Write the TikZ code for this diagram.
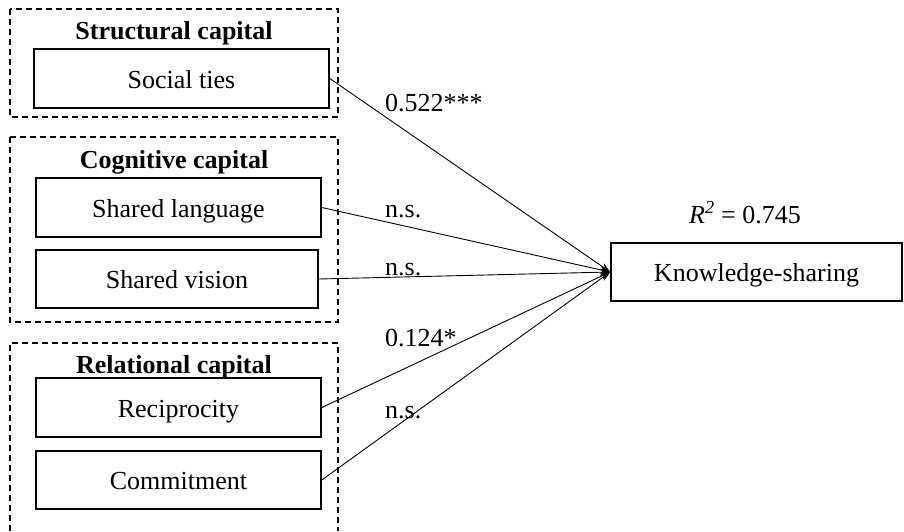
\documentclass[tikz,border=0pt]{standalone}
\usepackage{fontspec}
\setmainfont{Liberation Serif}
\usetikzlibrary{arrows.meta}
\begin{document}
\begin{tikzpicture}[x=1pt,y=-1pt,
  txt/.style={font=\fontsize{26}{30}\selectfont},
  varbox/.style={draw, line width=1.6pt, inner sep=0pt, text height=19pt, text depth=0pt, txt},
  grp/.style={draw, line width=1.3pt, dash pattern=on 6pt off 4pt},
  title/.style={anchor=base, inner sep=0pt, font=\fontsize{26}{30}\selectfont\bfseries},
  coef/.style={anchor=base west, inner sep=0pt, txt},
  path/.style={line width=0.9pt, -{Stealth[length=10pt,width=7pt]}}]
\useasboundingbox (0,0) rectangle (904,531);
% group frames
\draw[grp] (10,9) rectangle (338,117);
\draw[grp] (10,137) rectangle (338,322);
\draw[grp] (10,531) -- (10,343) -- (338,343) -- (338,531);
% titles
\node[title] (tst) at (174,39) {Structural capital};
\node[title] (tcg) at (174,168) {Cognitive capital};
\node[title] (trl) at (174,373) {Relational capital};
% variables
\node[varbox, minimum width=295pt, minimum height=59pt] (st) at (181.5,78.5) {Social ties};
\node[varbox, minimum width=285pt, minimum height=59pt] (sl) at (178.5,207.5) {Shared language};
\node[varbox, minimum width=282pt, minimum height=58pt] (sv) at (177,279) {Shared vision};
\node[varbox, minimum width=285pt, minimum height=59pt] (rc) at (178.5,407.5) {Reciprocity};
\node[varbox, minimum width=285pt, minimum height=58pt] (cm) at (178.5,480) {Commitment};
\node[varbox, minimum width=291pt, minimum height=58pt] (ks) at (756.5,272) {Knowledge-sharing};
% R2
\node[anchor=base, inner sep=0pt, txt] (r2) at (745,223) {\textit{R}\textsuperscript{\textit{2}} = 0.745};
% paths
\draw[path] (st.east) -- (ks.west);
\draw[path] (sl.east) -- (ks.west);
\draw[path] (sv.east) -- (ks.west);
\draw[path] (rc.east) -- (ks.west);
\draw[path] (cm.east) -- (ks.west);
% coefficients
\node[coef] (c1) at (385,111) {0.522***};
\node[coef] (c2) at (385,217) {n.s.};
\node[coef] (c3) at (385,275) {n.s.};
\node[coef] (c4) at (385,346) {0.124*};
\node[coef] (c5) at (385,418) {n.s.};
\end{tikzpicture}
\end{document}
